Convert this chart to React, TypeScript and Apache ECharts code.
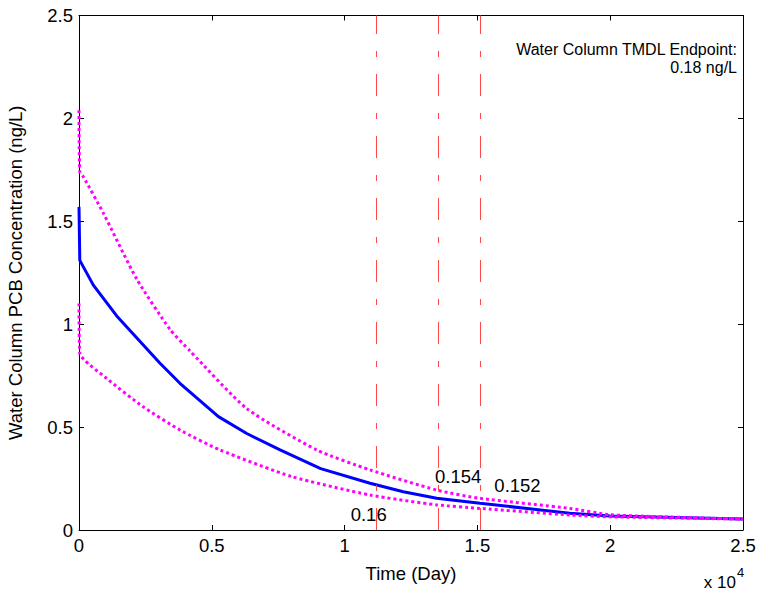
import React, { useEffect, useRef } from "react";
import * as echarts from "echarts";

// Mean (blue) curve
const meanDays = [0, 30, 540, 1420, 3050, 3800, 5250, 6300, 7570, 9100, 10958, 12210, 13467, 15098, 18486, 20000, 25000];
const meanConc = [1.57, 1.31, 1.19, 1.04, 0.81, 0.713, 0.551, 0.47, 0.389, 0.298, 0.227, 0.186, 0.154, 0.13, 0.081, 0.068, 0.053];

// Upper bound (magenta dotted)
const upperDays = [0, 30, 160, 915, 2170, 3426, 4180, 6314, 8950, 10958, 13467, 15098, 18486, 20000, 25000];
const upperConc = [2.04, 1.74, 1.717, 1.54, 1.22, 0.975, 0.87, 0.59, 0.389, 0.292, 0.194, 0.154, 0.105, 0.074, 0.053];

// Lower bound (magenta dotted)
const lowerDays = [0, 30, 1040, 2400, 3800, 5309, 8000, 10958, 13467, 15098, 18486, 20000, 25000];
const lowerConc = [1.10, 0.86, 0.737, 0.6, 0.486, 0.389, 0.26, 0.17, 0.122, 0.105, 0.073, 0.064, 0.053];

// Vertical reference lines (days)
const refDays = [11180, 13517, 15098];

// Annotations
const annotDays = [10907, 14276, 16510];
const annotConc = [0.073, 0.261, 0.214];
const annotText = ["0.16", "0.154", "0.152"];

const xTicks = [0, 5000, 10000, 15000, 20000, 25000];
const yTicks = [0, 0.5, 1, 1.5, 2, 2.5];

const FONT = "'Liberation Sans', Arial, Helvetica, sans-serif";

export default function App() {
  const ref = useRef<HTMLDivElement>(null);
  useEffect(() => {
    document.body.style.margin = "0";
    if (!ref.current) return;
    const chart = echarts.init(ref.current, undefined, { renderer: "svg" });
    const pair = (xs: number[], ys: number[]) => xs.map((x, i) => [x, ys[i]]);
    const axisCommon = {
      type: "value" as const,
      splitLine: { show: false },
      axisLine: { show: true, onZero: false, lineStyle: { color: "#000", width: 1 } },
      axisTick: { show: true, inside: true, length: 5, lineStyle: { color: "#000" } },
    };
    chart.setOption({
      animation: false,
      textStyle: { fontFamily: FONT },
      grid: { left: 79, right: 17, top: 15.5, bottom: 66, containLabel: false, outerBoundsMode: "none" },
      xAxis: [
        {
          ...axisCommon,
          min: xTicks[0],
          max: xTicks[xTicks.length - 1],
          interval: xTicks[1] - xTicks[0],
          name: "Time (Day)",
          nameLocation: "middle",
          nameGap: 34,
          nameTextStyle: { fontSize: 18.5, color: "#000", fontFamily: FONT },
          axisLabel: {
            color: "#000",
            fontSize: 18.5,
            fontFamily: FONT,
            margin: 6,
            formatter: (v: number) => String(v / 10000),
          },
        },
        {
          ...axisCommon,
          position: "top",
          min: xTicks[0],
          max: xTicks[xTicks.length - 1],
          interval: xTicks[1] - xTicks[0],
          axisLabel: { show: false },
        },
      ],
      yAxis: [
        {
          ...axisCommon,
          min: yTicks[0],
          max: yTicks[yTicks.length - 1],
          interval: yTicks[1] - yTicks[0],
          name: "Water Column PCB Concentration (ng/L)",
          nameLocation: "middle",
          nameGap: 54,
          nameTextStyle: { fontSize: 18.5, color: "#000", fontFamily: FONT },
          axisLabel: { color: "#000", fontSize: 18.5, fontFamily: FONT, margin: 6 },
        },
        {
          ...axisCommon,
          position: "right",
          min: yTicks[0],
          max: yTicks[yTicks.length - 1],
          interval: yTicks[1] - yTicks[0],
          axisLabel: { show: false },
        },
      ],
      series: [
        {
          type: "line",
          data: [],
          silent: true,
          color: "#ff4848",
          markLine: {
            silent: true,
            symbol: ["none", "none"],
            label: { show: false },
            lineStyle: { color: "#ff4848", width: 1, type: [22, 17, 6, 17] },
            data: refDays.map((d) => ({ xAxis: d })),
          },
        },
        {
          type: "line",
          data: pair(meanDays, meanConc),
          showSymbol: false,
          lineStyle: { color: "#0000ff", width: 3 },
          itemStyle: { color: "#0000ff" },
        },
        {
          type: "line",
          data: pair(upperDays, upperConc),
          showSymbol: false,
          smooth: 0.2,
          lineStyle: { color: "#ff00ff", width: 3, type: [3, 3] },
          itemStyle: { color: "#ff00ff" },
        },
        {
          type: "line",
          data: pair(lowerDays, lowerConc),
          showSymbol: false,
          smooth: 0.2,
          lineStyle: { color: "#ff00ff", width: 3, type: [3, 3] },
          itemStyle: { color: "#ff00ff" },
        },
        {
          type: "scatter",
          symbolSize: 0,
          itemStyle: { opacity: 1 },
          data: annotDays.map((d, i) => [d, annotConc[i], annotText[i]]),
          label: {
            show: true,
            position: "inside",
            color: "#000",
            fontSize: 18.5,
            fontFamily: FONT,
            formatter: (p: any) => p.data[2],
          },
        },
      ],
      graphic: [
        {
          type: "text",
          x: 737,
          y: 40,
          style: {
            text: "Water Column TMDL Endpoint:\n0.18 ng/L",
            fontSize: 16,
            fontFamily: FONT,
            fill: "#000",
            align: "right",
            verticalAlign: "top",
            lineHeight: 18,
          },
        },
        {
          type: "text",
          x: 736,
          y: 591,
          style: {
            text: "x 10",
            fontSize: 17,
            fontFamily: FONT,
            fill: "#000",
            align: "right",
            verticalAlign: "bottom",
          },
        },
        {
          type: "text",
          x: 737,
          y: 566,
          style: {
            text: "4",
            fontSize: 13,
            fontFamily: FONT,
            fill: "#000",
            align: "left",
            verticalAlign: "top",
          },
        },
      ],
    });
    return () => chart.dispose();
  }, []);
  return <div ref={ref} style={{ width: 760, height: 596 }} />;
}
